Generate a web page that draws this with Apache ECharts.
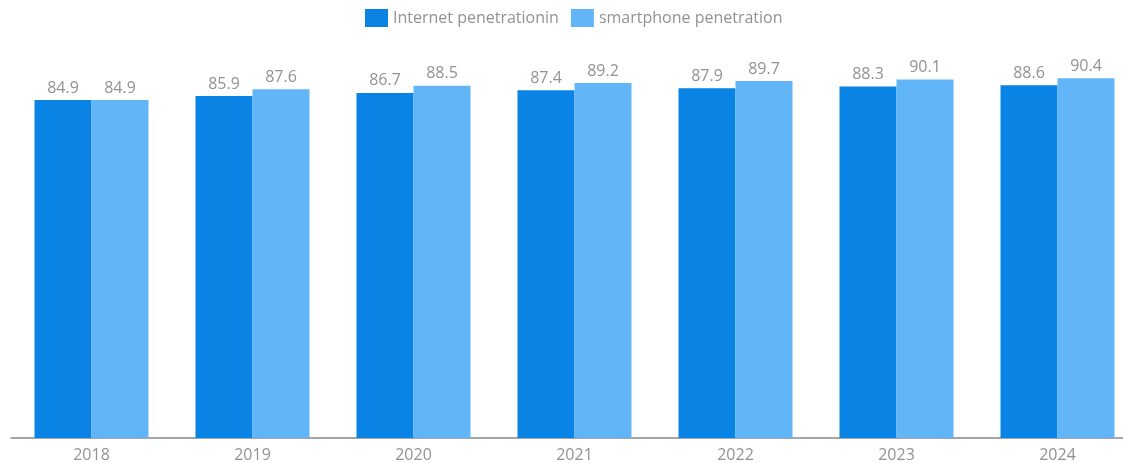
<!DOCTYPE html>
<html>
<head>
<meta charset="utf-8">
<script src="https://cdn.jsdelivr.net/npm/echarts@6/dist/echarts.min.js"></script>
<style>
  html, body { margin: 0; padding: 0; background: #fff; overflow: hidden; }
  #chart { width: 1140px; height: 463px; }
</style>
</head>
<body>
<div id="chart"></div>
<script>
// 数据
var years = ['2018', '2019', '2020', '2021', '2022', '2023', '2024'];
var internetData = [84.9, 85.9, 86.7, 87.4, 87.9, 88.3, 88.6];
var smartphoneData = [84.9, 87.6, 88.5, 89.2, 89.7, 90.1, 90.4];

var myChart = echarts.init(document.getElementById('chart'));
var labelStyle = {
  show: true,
  position: 'top',
  color: '#929292',
  fontSize: 16,
  fontFamily: 'Open Sans',
  distance: 4,
  formatter: function (p) {
    return p.value.toFixed(1);
  },
};
var option = {
  animation: false,
  textStyle: { fontFamily: 'Open Sans' },
  legend: {
    left: 360,
    top: 4,
    itemWidth: 23,
    itemHeight: 18,
    itemGap: 12,
    icon: 'rect',
    textStyle: { color: '#929292', fontSize: 16, fontFamily: 'Open Sans' },
  },
  grid: {
    left: 11,
    right: 2,
    top: 40,
    bottom: 25,
  },
  xAxis: {
    type: 'category',
    data: years,
    axisTick: { show: false },
    axisLine: { lineStyle: { color: '#888', width: 1.5 } },
    axisLabel: { color: '#929292', fontSize: 16, margin: 9 },
  },
  yAxis: {
    type: 'value',
    min: 0,
    max: 100,
    show: false,
    splitLine: { show: false },
  },
  series: [
    {
      name: 'Internet penetrationin',
      type: 'bar',
      barWidth: 57,
      barGap: '0%',
      itemStyle: { color: '#0a84e4' },
      label: labelStyle,
      data: internetData,
    },
    {
      name: 'smartphone penetration',
      type: 'bar',
      barWidth: 57,
      barGap: '0%',
      itemStyle: { color: '#62b6f7' },
      label: labelStyle,
      data: smartphoneData,
    },
  ],
};
myChart.setOption(option, true);
</script>
</body>
</html>
